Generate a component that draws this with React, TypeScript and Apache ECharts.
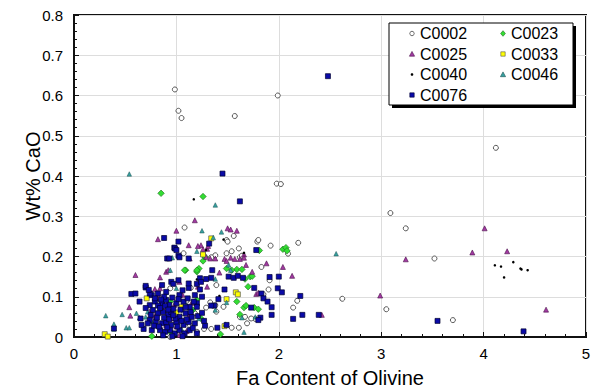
import React, { useEffect, useRef } from "react";
import * as echarts from "echarts";

const xTickValues = [0, 1, 2, 3, 4, 5];
const yTickValues = [0, 0.1, 0.2, 0.3, 0.4, 0.5, 0.6, 0.7, 0.8];
const xAxisTitle = "Fa Content of Olivine";
const yAxisTitle = "Wt% CaO";
const seriesNames = ["C0002", "C0023", "C0025", "C0033", "C0040", "C0046", "C0076"];

const c0002: number[][] = [
  [0.985, 0.615], [1.02, 0.562], [1.05, 0.544], [1.57, 0.549], [1.99, 0.6], [1.98, 0.381], [2.02, 0.38],
  [4.12, 0.47], [3.09, 0.308], [3.24, 0.27], [3.52, 0.195], [2.62, 0.095], [3.05, 0.069], [3.7, 0.042],
  [1.08, 0.272], [1.07, 0.208], [1.49, 0.241], [1.5, 0.237], [1.56, 0.251], [1.79, 0.237], [1.8, 0.241],
  [1.92, 0.227], [2.19, 0.234], [2.09, 0.207], [1.61, 0.22], [1.54, 0.213], [1.49, 0.208], [1.38, 0.203],
  [1.34, 0.198], [1.62, 0.198], [1.26, 0.206], [1.64, 0.202], [1.83, 0.174], [1.91, 0.141], [1.39, 0.129],
  [1.9, 0.118], [1.85, 0.106], [2.18, 0.09], [2.14, 0.073], [1.33, 0.086], [1.38, 0.079], [1.29, 0.073],
  [1.46, 0.075], [1.39, 0.063], [1.67, 0.05], [1.69, 0.034], [1.62, 0.05], [1.77, 0.045], [1.73, 0.046],
  [1.54, 0.023], [1.61, 0.023], [1.27, 0.02], [1.34, 0.02], [0.94, 0.121], [1.03, 0.1], [1.14, 0.122],
  [1.0, 0.071], [1.07, 0.059], [1.13, 0.03], [1.2, 0.013], [0.94, 0.0], [1.18, 0.059], [1.1, 0.09],
];

const c0023: number[][] = [
  [0.85, 0.357], [1.26, 0.349], [1.81, 0.215], [2.04, 0.218], [2.07, 0.222], [2.08, 0.214], [1.28, 0.199],
  [1.26, 0.189], [1.22, 0.17], [1.2, 0.162], [1.59, 0.168], [1.64, 0.168], [1.09, 0.166], [1.2, 0.166],
  [1.49, 0.17], [1.54, 0.166], [1.67, 0.144], [1.72, 0.15], [1.7, 0.125], [1.59, 0.088], [1.66, 0.073],
  [1.68, 0.078], [1.76, 0.073], [1.8, 0.069], [1.62, 0.056], [1.24, 0.046], [1.43, 0.007], [0.76, 0.002],
  [0.94, 0.088], [1.16, 0.067], [1.2, 0.092], [0.94, 0.013], [1.08, 0.166], [1.74, 0.151],
];

const c0025: number[][] = [
  [1.18, 0.29], [1.0, 0.264], [0.82, 0.243], [1.12, 0.228], [1.13, 0.195], [1.5, 0.27], [1.53, 0.267],
  [1.59, 0.264], [1.24, 0.228], [1.3, 0.219], [1.66, 0.205], [1.66, 0.197], [1.53, 0.197], [1.47, 0.194],
  [1.33, 0.195], [1.38, 0.195], [1.49, 0.189], [1.57, 0.194], [1.62, 0.194], [1.42, 0.16], [1.68, 0.179],
  [1.74, 0.162], [2.04, 0.174], [2.13, 0.152], [1.88, 0.183], [1.21, 0.125], [1.3, 0.125], [1.78, 0.107],
  [1.8, 0.11], [1.21, 0.226], [1.31, 0.226], [1.26, 0.218], [1.29, 0.199], [0.6, 0.154], [0.84, 0.148],
  [0.9, 0.162], [0.92, 0.166], [0.54, 0.074], [0.55, 0.053], [0.79, 0.119], [0.84, 0.121], [0.81, 0.096],
  [0.87, 0.067], [0.94, 0.046], [1.03, 0.005], [1.1, 0.015], [1.0, 0.026], [0.79, 0.053], [0.74, 0.063],
  [0.82, 0.106], [1.03, 0.137], [0.98, 0.08], [1.12, 0.052], [0.9, 0.03], [1.06, 0.105], [1.15, 0.085],
  [4.01, 0.27], [3.24, 0.193], [3.89, 0.21], [4.23, 0.213], [2.99, 0.103], [2.42, 0.055], [4.61, 0.068],
];

const c0033: number[][] = [
  [1.34, 0.245], [1.58, 0.111], [1.6, 0.106], [1.49, 0.094], [1.47, 0.027], [0.71, 0.096], [1.0, 0.061],
  [0.3, 0.007], [0.33, 0.001], [1.05, 0.075], [1.26, 0.205],
];

const c0040: number[][] = [
  [4.11, 0.178], [4.17, 0.175], [4.29, 0.186], [4.36, 0.17], [4.37, 0.168], [4.43, 0.166], [4.2, 0.148],
  [1.17, 0.342], [1.46, 0.242], [1.29, 0.216], [1.66, 0.209], [1.2, 0.143], [1.42, 0.102],
];

const c0046: number[][] = [
  [0.54, 0.405], [1.38, 0.328], [2.56, 0.207], [1.0, 0.219], [0.96, 0.197], [1.25, 0.264], [1.44, 0.261],
  [1.36, 0.247], [1.2, 0.213], [1.51, 0.179], [1.53, 0.166], [1.38, 0.144], [1.49, 0.086], [1.64, 0.048],
  [1.77, 0.05], [1.48, 0.032], [1.66, 0.012], [0.31, 0.053], [0.47, 0.056], [0.61, 0.059], [0.64, 0.048],
  [0.39, 0.032], [0.39, 0.02], [0.51, 0.023], [0.54, 0.023], [0.94, 0.166], [0.72, 0.063], [0.7, 0.05],
  [0.76, 0.038], [0.9, 0.111], [1.0, 0.121], [0.95, 0.055], [1.1, 0.079], [0.8, 0.035], [1.22, 0.046],
  [1.38, 0.067], [0.86, 0.09], [1.05, 0.02],
];

const c0076: number[][] = [
  [2.48, 0.648], [1.45, 0.406], [1.62, 0.337], [0.88, 0.246], [1.02, 0.237], [0.98, 0.222], [1.02, 0.202],
  [0.91, 0.195], [1.32, 0.232], [1.78, 0.216], [1.35, 0.166], [1.91, 0.149], [1.23, 0.146], [1.29, 0.144],
  [1.34, 0.147], [1.51, 0.15], [1.56, 0.147], [1.6, 0.152], [1.65, 0.147], [1.47, 0.118], [1.76, 0.122],
  [1.99, 0.121], [2.03, 0.111], [1.83, 0.108], [1.85, 0.096], [1.89, 0.088], [1.93, 0.074], [2.21, 0.102],
  [2.14, 0.045], [2.23, 0.055], [2.39, 0.055], [3.55, 0.04], [4.39, 0.014], [1.41, 0.094], [1.37, 0.078],
  [1.34, 0.078], [1.73, 0.073], [1.82, 0.048], [1.93, 0.055], [1.4, 0.023], [1.49, 0.03], [1.28, 0.028],
  [1.2, 0.009], [2.0, 0.15], [0.56, 0.107], [0.7, 0.123], [0.39, 0.021], [0.985, 0.22], [1.0, 0.216],
  [1.03, 0.198], [0.93, 0.195], [1.12, 0.195], [1.02, 0.141], [0.95, 0.137], [1.12, 0.122], [0.76, 0.104],
  [1.8, 0.042],
  [0.7, 0.127], [0.86, 0.129], [0.97, 0.132], [1.12, 0.133], [1.2, 0.132], [1.23, 0.118], [0.6, 0.108],
  [0.74, 0.108], [0.82, 0.108], [0.9, 0.112], [1.03, 0.104], [1.18, 0.104], [0.79, 0.088], [0.86, 0.084],
  [0.9, 0.092], [0.93, 0.08], [1.0, 0.084], [1.07, 0.088], [1.13, 0.075], [1.2, 0.084], [0.77, 0.067],
  [0.82, 0.059], [0.87, 0.062], [0.92, 0.055], [0.95, 0.062], [1.03, 0.05], [1.09, 0.059], [1.15, 0.05],
  [0.74, 0.042], [0.8, 0.039], [0.86, 0.034], [0.9, 0.037], [0.95, 0.03], [1.0, 0.037], [1.07, 0.03],
  [1.12, 0.037], [1.18, 0.034], [0.84, 0.017], [0.89, 0.013], [0.94, 0.017], [0.985, 0.009], [1.03, 0.017],
  [1.08, 0.009], [1.13, 0.017], [0.87, 0.004], [0.96, 0.002], [1.06, 0.002], [0.65, 0.046], [0.72, 0.034],
  [0.68, 0.02], [0.76, 0.017], [0.82, 0.078], [0.74, 0.079], [0.79, 0.096], [0.73, 0.117], [1.21, 0.052],
  [1.2, 0.075], [1.25, 0.1], [1.24, 0.137], [0.84, 0.072], [0.88, 0.048], [0.97, 0.07], [1.04, 0.068],
  [1.1, 0.044], [0.91, 0.024], [0.99, 0.046], [1.05, 0.04], [0.83, 0.026], [0.78, 0.028], [1.16, 0.022],
  [1.11, 0.096], [0.96, 0.098], [0.88, 0.1], [1.06, 0.116], [0.93, 0.044], [1.01, 0.026], [0.81, 0.048],
  [1.14, 0.062], [0.97, 0.054], [0.89, 0.077], [1.02, 0.094], [1.17, 0.088], [0.85, 0.093], [0.92, 0.068],
  [1.09, 0.074], [0.75, 0.055], [0.7, 0.072], [0.64, 0.088], [0.66, 0.03], [1.25, 0.06], [1.27, 0.04],
];

const seriesData = [c0002, c0023, c0025, c0033, c0040, c0046, c0076];

const FONT = "'Liberation Sans', Arial, sans-serif";

// marker styles: [symbol, size, fill, stroke, strokeWidth]
const STYLES: [string, number, string, string, number][] = [
  ["circle", 5, "#fff", "#444", 0.9],
  ["diamond", 6.5, "#33dd33", "#1a6a1a", 0.6],
  ["triangle", 5, "#a23aa2", "#4a104a", 0.6],
  ["rect", 5, "#ffff00", "#555", 0.7],
  ["circle", 2.5, "#000", "#000", 0],
  ["triangle", 4.5, "#36a0a0", "#1a5050", 0.5],
  ["rect", 5, "#0a0aa8", "#000030", 0.7],
];

// legend slot for each series: [column, row]
const LEGEND_SLOTS: [number, number][] = [[0, 0], [1, 0], [0, 1], [1, 1], [0, 2], [1, 2], [0, 3]];

function legendMarker(i: number, cx: number, cy: number) {
  const [sym, , fill, stroke] = STYLES[i];
  const style = { fill, stroke, lineWidth: 0.6 };
  const r = 2.2;
  if (sym === "circle") {
    return i === 4
      ? { type: "circle", shape: { cx, cy, r: 1.3 }, style: { fill: "#000" } }
      : { type: "circle", shape: { cx, cy, r }, style: { ...style, lineWidth: 0.8 } };
  }
  if (sym === "rect") return { type: "rect", shape: { x: cx - r, y: cy - r, width: 2 * r, height: 2 * r }, style };
  if (sym === "diamond")
    return { type: "polygon", shape: { points: [[cx, cy - 2.8], [cx + 2.4, cy], [cx, cy + 2.8], [cx - 2.4, cy]] }, style };
  return { type: "polygon", shape: { points: [[cx, cy - 2.6], [cx + 2.6, cy + 2.2], [cx - 2.6, cy + 2.2]] }, style };
}

export default function App() {
  const ref = useRef<HTMLDivElement>(null);
  useEffect(() => {
    if (!ref.current) return;
    const chart = echarts.init(ref.current, null, { renderer: "svg" });

    const legendEls: any[] = [
      { type: "rect", z: 8, shape: { x: 392, y: 26, width: 184, height: 82 }, style: { fill: "#000" } },
      { type: "rect", z: 9, shape: { x: 389, y: 23, width: 184, height: 82 }, style: { fill: "#fff", stroke: "#000", lineWidth: 1 } },
    ];
    seriesNames.forEach((name, i) => {
      const [col, row] = LEGEND_SLOTS[i];
      const cx = col === 0 ? 412 : 503;
      const cy = 33.5 + row * 20.5;
      legendEls.push({ ...legendMarker(i, cx, cy), z: 10 });
      legendEls.push({
        type: "text", z: 10, x: cx + 8, y: cy,
        style: { text: name, fontFamily: FONT, fontSize: 16, fill: "#000", verticalAlign: "middle", align: "left" },
      });
    });

    chart.setOption({
      animation: false,
      backgroundColor: "#fff",
      grid: {
        left: 74, top: 15, width: 512, height: 322, outerBoundsMode: "none", containLabel: false,
        show: true, borderColor: "#111", borderWidth: 2, backgroundColor: "transparent",
      },
      xAxis: {
        type: "value", min: xTickValues[0], max: xTickValues[xTickValues.length - 1], interval: 1,
        name: xAxisTitle, nameLocation: "middle", nameGap: 31, nameMoveOverlap: false,
        nameTextStyle: { fontFamily: FONT, fontSize: 20, color: "#000" },
        axisLine: { show: true, lineStyle: { color: "#111", width: 2 } },
        axisTick: { show: true, inside: true, length: 5, lineStyle: { color: "#111" } },
        minorTick: { show: true, splitNumber: 5, length: 3, lineStyle: { color: "#111" } },
        axisLabel: { fontFamily: FONT, fontSize: 15, color: "#000", margin: 9 },
        splitLine: { show: true, lineStyle: { color: "#ddd", width: 1 } },
      },
      yAxis: {
        type: "value", min: yTickValues[0], max: yTickValues[yTickValues.length - 1], interval: 0.1,
        name: yAxisTitle, nameLocation: "middle", nameGap: 31, nameMoveOverlap: false,
        nameTextStyle: { fontFamily: FONT, fontSize: 20, color: "#000" },
        axisLine: { show: true, lineStyle: { color: "#111", width: 2 } },
        axisTick: { show: true, inside: true, length: 5, lineStyle: { color: "#111" } },
        minorTick: { show: true, splitNumber: 5, length: 3, lineStyle: { color: "#111" } },
        axisLabel: { fontFamily: FONT, fontSize: 15, color: "#000", margin: 11,
          formatter: (v: number) => (v === 0 ? "0" : v.toFixed(1)) },
        splitLine: { show: true, lineStyle: { color: "#ddd", width: 1 } },
      },
      graphic: legendEls,
      series: seriesNames.map((name, i) => {
        const [symbol, size, color, border, bw] = STYLES[i];
        return {
          name, type: "scatter", data: seriesData[i], symbol, symbolSize: size,
          itemStyle: { color, borderColor: border, borderWidth: bw, opacity: 1 },
          emphasis: { disabled: true },
        };
      }),
    });
    return () => chart.dispose();
  }, []);
  return <div ref={ref} style={{ position: "fixed", left: 0, top: 0, width: 594, height: 388 }} />;
}
